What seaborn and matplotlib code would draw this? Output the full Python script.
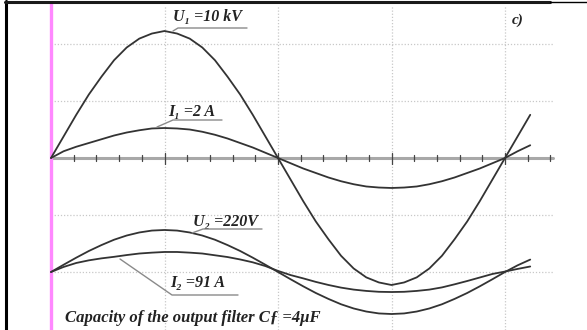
import matplotlib
matplotlib.use("Agg")
import matplotlib.pyplot as plt
from matplotlib.lines import Line2D
import numpy as np
import pandas as pd
import seaborn as sns

# electrical angle, degrees
angle = list(range(0, 390, 10))

# primary voltage, kV
u1 = [0, 1.7, 3.4, 5.0, 6.4, 7.7, 8.7, 9.4, 9.8, 10.0, 9.8, 9.4, 8.7, 7.7, 6.4, 5.0, 3.4, 1.7, 0,
      -1.7, -3.4, -5.0, -6.4, -7.7, -8.7, -9.4, -9.8, -10.0, -9.8, -9.4, -8.7, -7.7, -6.4, -5.0,
      -3.4, -1.7, 0, 1.7, 3.4]
# primary current, A
i1 = [0, 0.45, 0.75, 1.0, 1.25, 1.5, 1.7, 1.85, 1.97, 2.0, 1.97, 1.9, 1.75, 1.55, 1.3, 1.0, 0.7, 0.35, 0,
      -0.35, -0.7, -1.0, -1.3, -1.55, -1.75, -1.9, -1.97, -2.0, -1.97, -1.9, -1.75, -1.55, -1.3, -1.0,
      -0.7, -0.35, 0, 0.45, 0.85]
# secondary voltage, V
u2 = [0, 38, 75, 110, 141, 169, 191, 207, 217, 220, 217, 207, 191, 169, 141, 110, 75, 38, 0,
      -38, -75, -110, -141, -169, -191, -207, -217, -220, -217, -207, -191, -169, -141, -110,
      -75, -38, 0, 35, 65]
# secondary current, A
i2 = [0, 23, 41, 53, 62, 69, 77, 84, 88, 91, 91, 88, 84, 76, 68, 57, 44, 27, 5,
      -14, -29, -45, -59, -71, -80, -86, -90, -91, -90, -86, -80, -70, -56, -41,
      -25, -9, 2, 14, 25]

# display scale (grid divisions per unit) and baseline offset
series = [
    ("U1", u1, 0.2228, 0.0),
    ("I1", i1, 0.263, 0.0),
    ("U2", u2, 0.00335, -2.0),
    ("I2", i2, 0.00386, -2.0),
]

W, H = 587, 330
X0, Y0 = 51, 158          # pixel position of the origin
DEG_PX = 454 / 360        # pixels per degree
DIV_PX = 57               # pixels per grid division


def px(x, y):
    return (x - X0) / DEG_PX, (Y0 - y) / DIV_PX


sns.set_style("white")
fig = plt.figure(figsize=(W / 100, H / 100), dpi=100)
ax = fig.add_axes([0, 0, 1, 1])
xmin, ymax = px(0, 0)
xmax, ymin = px(W, H)
ax.set_xlim(xmin, xmax)
ax.set_ylim(ymin, ymax)
ax.axis("off")

serif = ["Liberation Serif", "DejaVu Serif"]
x_end = px(553, 0)[0]
top = px(0, 5)[1]

# dotted grid
for g in [90, 180, 270, 360]:
    ax.plot([g, g], [ymin, top], color="#c8c8c8", lw=0.9, ls=(0, (1, 1.5)), zorder=1)
for g in [2, 1, -1, -2]:
    ax.plot([0, x_end], [g, g], color="#c8c8c8", lw=0.9, ls=(0, (1, 1.5)), zorder=1)

# time axis with ticks
ax.plot([0, x_end], [0, 0], color="#a8a8a8", lw=2.2, zorder=2)
for t in range(18, 400, 18):
    h = 5.5 if t % 90 == 0 else 3
    ax.plot([t, t], [h / DIV_PX, -h / DIV_PX], color="#444444", lw=0.9, zorder=3)

# magenta marker line
ax.plot([0, 0], [ymin, px(0, 3)[1]], color="#ff88ff", lw=2.4, zorder=4)

for name, vals, scale, off in series:
    df = pd.DataFrame({"angle": angle, "y": np.array(vals) * scale + off})
    sns.lineplot(data=df, x="angle", y="y", ax=ax, color="#333333", lw=1.3, zorder=5)

# labels with leaders
labels = [
    (r"U₁ =10 kV", (173, 17), [(173, 31), (178, 28), (247, 28)]),
    (r"I₁ =2 A", (168, 112), [(157, 127), (173, 120), (222, 120)]),
    (r"U₂ =220V", (193, 222), [(192, 233), (203, 229), (262, 229)]),
    (r"I₂ =91 A", (170, 283), [(120, 259), (172, 295), (238, 295)]),
]
for txt, (tx, ty), path in labels:
    xs, ys = zip(*[px(a, b) for a, b in path])
    ax.plot(xs, ys, color="#8a8a8a", lw=1.0, zorder=6)
    ax.text(*px(tx, ty), txt, family=serif, fontsize=11.5, fontweight="bold",
            style="italic", ha="left", va="center", color="#222222")

ax.text(*px(512, 20), "c)", family=serif, fontsize=11, fontweight="bold",
        style="italic", ha="left", va="center", color="#222222")
ax.text(*px(65, 318), "Capacity of the output filter C\u0192 =4\u03bcF", family=serif,
        fontsize=12, fontweight="bold", style="italic", ha="left", va="center",
        color="#222222")

# frame on the left and top
fig.add_artist(Line2D([6 / W, 6 / W], [0, 1 - 1 / H], transform=fig.transFigure,
                      color="black", lw=2.2))
fig.add_artist(Line2D([5 / W, 550 / W], [1 - 1.5 / H, 1 - 1.5 / H], transform=fig.transFigure,
                      color="#1a1a1a", lw=2.2))
fig.add_artist(Line2D([550 / W, 1], [1 - 1.5 / H, 1 - 1.5 / H], transform=fig.transFigure,
                      color="black", lw=1.0))

fig.savefig("out.png", dpi=100)
